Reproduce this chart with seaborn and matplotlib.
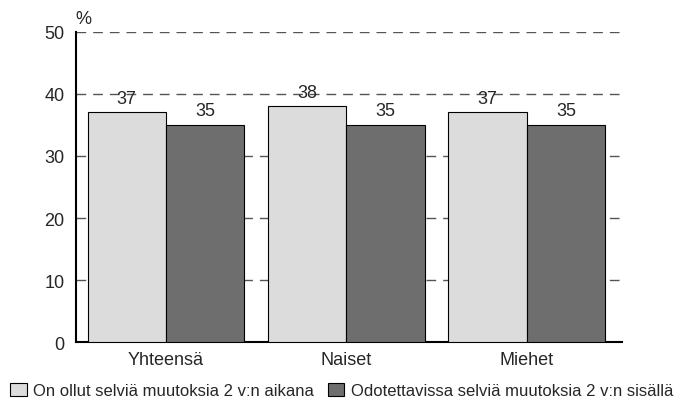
import matplotlib
matplotlib.use("Agg")
import matplotlib.pyplot as plt
import seaborn as sns
import pandas as pd

# Data
groups = ["Yhteensä", "Naiset", "Miehet"]
series = ["On ollut selviä muutoksia 2 v:n aikana", "Odotettavissa selviä muutoksia 2 v:n sisällä"]
past = [37, 38, 37]
expected = [35, 35, 35]
colors = ["#dcdcdc", "#6e6e6e"]

df = pd.DataFrame({
    "group": groups * 2,
    "series": [series[0]] * 3 + [series[1]] * 3,
    "value": past + expected,
})

sns.set_style("white")
plt.rcParams["font.family"] = ["Liberation Sans Narrow", "Liberation Sans", "DejaVu Sans"]

fig = plt.figure(figsize=(6.83, 4.10), dpi=100)
ax = fig.add_axes([0.111, 0.163, 0.80, 0.757])

sns.barplot(data=df, x="group", y="value", hue="series", hue_order=series,
            palette=colors, width=0.87, edgecolor="black", linewidth=0.8,
            saturation=1, ax=ax, zorder=3, legend=False)

ax.set_ylim(0, 50)
ax.set_xlim(-0.5, 2.53)
ax.set_yticks([0, 10, 20, 30, 40, 50])
for y in [10, 20, 30, 40, 50]:
    ax.axhline(y, color="#555555", linestyle=(0, (7, 5)), linewidth=1.0, zorder=1)

for container in ax.containers:
    ax.bar_label(container, fmt="%d", padding=4, fontsize=13, zorder=4)

ax.set_xlabel("")
ax.set_ylabel("")
ax.tick_params(axis="both", labelsize=13, length=0)
ax.tick_params(axis="x", pad=6)
ax.tick_params(axis="y", pad=8)
for side in ["top", "right"]:
    ax.spines[side].set_visible(False)
for side in ["left", "bottom"]:
    ax.spines[side].set_linewidth(1.5)
    ax.spines[side].set_color("black")

ax.text(0.0, 1.015, "%", transform=ax.transAxes, fontsize=13, ha="left", va="bottom")

handles = [plt.Rectangle((0, 0), 1, 1, facecolor=c, edgecolor="black", linewidth=0.8) for c in colors]
fig.legend(handles, series, loc="center left", bbox_to_anchor=(0.0, 0.045), ncol=2,
           frameon=False, fontsize=12, handlelength=1.0, handleheight=0.8,
           handletextpad=0.4, columnspacing=0.8, borderaxespad=0.2)

fig.savefig("out.png", dpi=100)
